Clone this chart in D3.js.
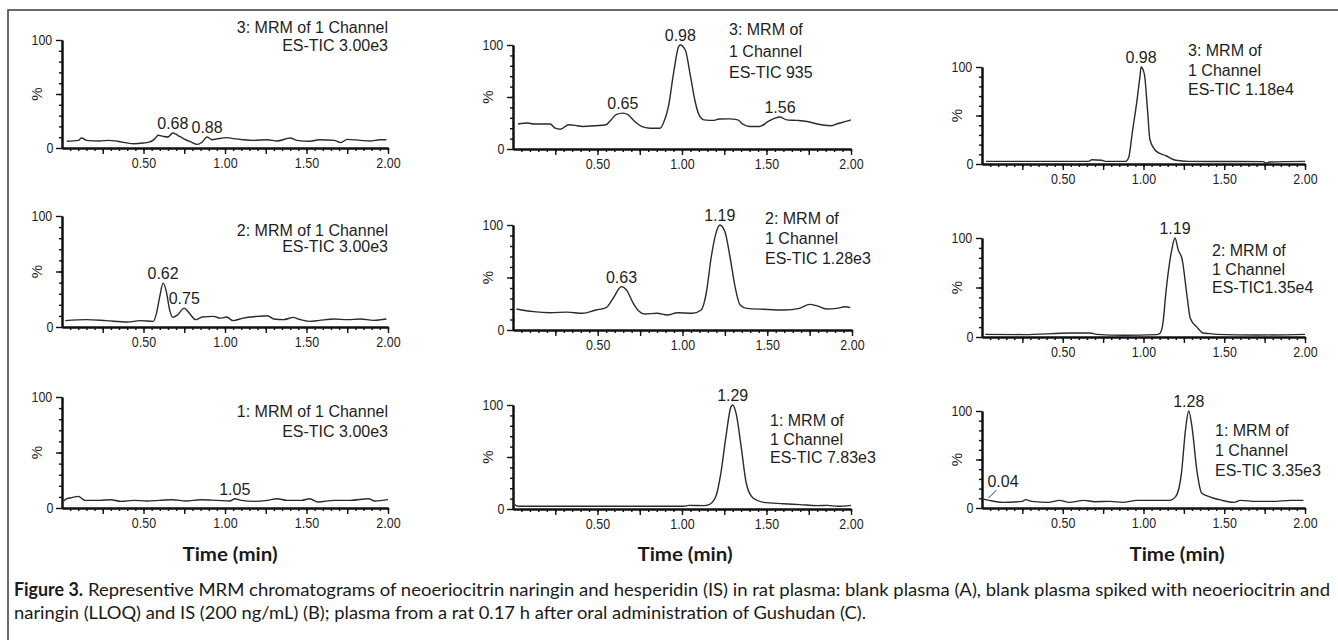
<!DOCTYPE html>
<html>
<head>
<meta charset="utf-8">
<script src="https://cdn.jsdelivr.net/npm/d3@7"></script>
<style>
  body { margin: 0; background: #fff; }
  svg { display: block; }
  .tick text {
    font-family: "Liberation Sans", Arial, sans-serif;
    font-size: 14.5px;
    transform-box: fill-box;
    transform-origin: center;
    transform: scaleX(0.86);
  }
</style>
</head>
<body>
<svg id="chart" width="1338" height="640"></svg>
<script>
// chromatogram traces: [retention time (min), relative abundance (%)]
// row 3 = channel 3 (hesperidin, IS), row 2 = channel 2, row 1 = channel 1
const traceA3 = [[0.03,6.2],[0.10,7.1],[0.12,9.3],[0.15,7.1],[0.23,6.5],[0.29,7.1],[0.34,6.2],[0.44,4.0],[0.50,4.6],[0.54,5.6],[0.57,8.7],[0.59,11.8],[0.62,10.8],[0.65,10.2],[0.68,13.9],[0.71,11.8],[0.745,8.7],[0.79,5.6],[0.83,3.4],[0.86,5.6],[0.89,10.2],[0.92,7.7],[0.95,8.4],[1.01,9.6],[1.05,8.7],[1.11,7.7],[1.175,7.1],[1.26,7.7],[1.32,6.5],[1.40,9.3],[1.44,7.1],[1.52,6.2],[1.58,7.7],[1.67,7.1],[1.71,5.0],[1.75,8.0],[1.83,7.1],[1.89,6.5],[1.95,7.7],[1.99,7.7]];
const traceB3 = [[0.03,24],[0.09,25],[0.12,24],[0.22,24],[0.25,20],[0.28,19],[0.33,23.3],[0.38,22.4],[0.41,21.7],[0.49,22.4],[0.55,23.3],[0.58,28],[0.61,33],[0.65,34.5],[0.68,33],[0.72,26.5],[0.76,21.7],[0.81,20],[0.87,20],[0.89,25],[0.92,41],[0.95,73],[0.98,98.4],[0.99,100],[1.02,95],[1.05,70],[1.08,44],[1.10,33],[1.13,28],[1.19,27.5],[1.22,28.8],[1.28,29],[1.33,28],[1.36,24],[1.40,21.7],[1.46,21.7],[1.51,26.5],[1.55,29.7],[1.58,30.7],[1.62,28],[1.68,27.5],[1.74,26.5],[1.80,24],[1.88,22.4],[1.92,24.3],[1.97,26.5],[2.00,28]];
const traceC3 = [[0.025,2.7],[0.66,2.7],[0.68,4.4],[0.74,3.8],[0.77,2.7],[0.89,2.7],[0.91,7.8],[0.93,31.7],[0.96,65.9],[0.98,93],[0.985,100],[1.005,93],[1.025,55.6],[1.04,25],[1.08,13],[1.14,8.5],[1.20,3.8],[1.28,2.7],[1.74,2.4],[1.76,1.0],[1.78,2],[2.00,2.7]];

const traceA2 = [[0.02,5.7],[0.15,6.6],[0.27,5.7],[0.40,4.5],[0.48,5.7],[0.56,5.1],[0.58,12.6],[0.60,27.5],[0.62,39.5],[0.64,32],[0.66,15.6],[0.68,8.7],[0.71,11],[0.75,17],[0.78,12.6],[0.82,6.6],[0.86,9],[0.93,9.6],[0.97,8],[1.01,9],[1.05,5.7],[1.11,8],[1.20,9.6],[1.26,10.2],[1.30,7.2],[1.36,6.6],[1.42,8.7],[1.45,7.2],[1.52,5.1],[1.58,6],[1.67,7.2],[1.75,6.6],[1.83,7.2],[1.91,6],[1.99,7.2]];
const traceB2 = [[0.02,20],[0.12,17.5],[0.22,16.5],[0.32,17],[0.41,15.9],[0.49,19],[0.55,21.3],[0.59,30],[0.64,41.3],[0.67,38],[0.71,25.4],[0.74,18.4],[0.78,15.2],[0.85,15.9],[0.91,14.3],[0.97,16.5],[1.06,15.9],[1.11,19],[1.14,35],[1.17,70],[1.20,93.7],[1.22,100],[1.25,93.7],[1.28,70],[1.31,41.3],[1.34,23.8],[1.38,20.6],[1.48,19.7],[1.60,19],[1.69,20.6],[1.75,24.4],[1.79,23.2],[1.85,20],[1.91,20.6],[1.96,22.2],[1.99,21.3]];
const traceC2 = [[0.02,2.7],[0.26,2.4],[0.55,4],[0.67,4],[0.71,2.7],[0.88,1.7],[1.08,2.4],[1.10,3.4],[1.12,13.6],[1.14,47],[1.175,88],[1.195,100],[1.215,88],[1.24,78],[1.27,40.7],[1.29,18.6],[1.33,10.2],[1.37,4],[1.41,3.4],[1.45,2.7],[1.70,2],[2.00,2.7]];

const traceA1 = [[0.01,6.3],[0.03,8.4],[0.06,9.3],[0.10,10.5],[0.14,6.9],[0.23,6.9],[0.30,7.5],[0.36,6],[0.44,6.9],[0.52,6.3],[0.60,6.9],[0.68,7.5],[0.76,6.3],[0.85,7.5],[0.95,6.9],[1.03,6.3],[1.06,8.4],[1.10,6.9],[1.18,6],[1.26,6.9],[1.32,8.4],[1.38,6.9],[1.47,6.9],[1.52,8.4],[1.57,5.4],[1.67,6.9],[1.77,6.9],[1.88,8.4],[1.92,6.3],[2.00,7.5]];
const traceB1 = [[0.01,4.2],[0.03,2.6],[0.61,2.6],[1.01,2.6],[1.04,3.5],[1.13,3.2],[1.16,4.2],[1.20,12],[1.23,34.5],[1.26,69.6],[1.29,98.4],[1.30,100],[1.32,92],[1.35,60],[1.38,25],[1.42,10.5],[1.48,6.4],[1.60,5.1],[1.70,4.2],[1.80,3.2],[1.86,3.5],[1.92,2.6],[2.00,3.5]];
const traceC1 = [[0.01,9.2],[0.045,7.9],[0.13,5.8],[0.25,6.8],[0.27,8.6],[0.31,6.8],[0.41,5.8],[0.48,7.9],[0.54,5.8],[0.63,7.9],[0.70,6.5],[0.79,6.8],[0.87,5.8],[0.96,7.9],[1.08,7.9],[1.16,7.9],[1.20,12],[1.235,36],[1.26,80.5],[1.28,100],[1.30,84],[1.33,39.4],[1.36,15.4],[1.39,12.7],[1.43,10.3],[1.47,8.6],[1.56,5.8],[1.60,7.9],[1.70,6.8],[1.80,6.8],[1.91,7.9],[1.99,7.9]];

// labelled retention times
const peaksA3 = ["0.68", "0.88"];
const peaksB3 = ["0.65", "0.98", "1.56"];
const peaksC3 = ["0.98"];
const peaksA2 = ["0.62", "0.75"];
const peaksB2 = ["0.63", "1.19"];
const peaksC2 = ["1.19"];
const peaksA1 = ["1.05"];
const peaksB1 = ["1.29"];
const peaksC1 = ["1.28", "0.04"];

// channel header text
const infoA3 = ["3: MRM of 1 Channel", "ES-TIC 3.00e3"];
const infoB3 = ["3: MRM of", "1 Channel", "ES-TIC 935"];
const infoC3 = ["3: MRM of", "1 Channel", "ES-TIC 1.18e4"];
const infoA2 = ["2: MRM of 1 Channel", "ES-TIC 3.00e3"];
const infoB2 = ["2: MRM of", "1 Channel", "ES-TIC 1.28e3"];
const infoC2 = ["2: MRM of", "1 Channel", "ES-TIC1.35e4"];
const infoA1 = ["1: MRM of 1 Channel", "ES-TIC 3.00e3"];
const infoB1 = ["1: MRM of", "1 Channel", "ES-TIC 7.83e3"];
const infoC1 = ["1: MRM of", "1 Channel", "ES-TIC 3.35e3"];

const majorX = [0.25, 0.5, 0.75, 1.0, 1.25, 1.5, 1.75, 2.0];
const labelX = [0.5, 1.0, 1.5, 2.0];
const majorY = [0, 50, 100];
const labelY = [0, 100];
const xTitle = "Time (min)";
const captionBold = "Figure 3.";
const captionLine1 = "Representive MRM chromatograms of neoeriocitrin naringin and hesperidin (IS) in rat plasma: blank plasma (A), blank plasma spiked with neoeriocitrin and";
const captionLine2 = "naringin (LLOQ) and IS (200 ng/mL) (B); plasma from a rat 0.17 h after oral administration of Gushudan (C).";

const panels = [
  { trace: traceA3, peaks: peaksA3, info: infoA3, left: 62,  right: 388,  top: 40,  bottom: 148, infoX: 388,  anchor: "end",   infoY: 33,  gap: 18 },
  { trace: traceB3, peaks: peaksB3, info: infoB3, left: 513, right: 851,  top: 45,  bottom: 149, infoX: 729,  anchor: "start", infoY: 35,  gap: 21.5 },
  { trace: traceC3, peaks: peaksC3, info: infoC3, left: 982, right: 1305, top: 67,  bottom: 164, infoX: 1188, anchor: "start", infoY: 56,  gap: 19.5 },
  { trace: traceA2, peaks: peaksA2, info: infoA2, left: 62,  right: 388,  top: 216, bottom: 327, infoX: 388,  anchor: "end",   infoY: 236, gap: 16 },
  { trace: traceB2, peaks: peaksB2, info: infoB2, left: 513, right: 852,  top: 225, bottom: 330, infoX: 765,  anchor: "start", infoY: 224, gap: 20 },
  { trace: traceC2, peaks: peaksC2, info: infoC2, left: 982, right: 1305, top: 238, bottom: 337, infoX: 1212, anchor: "start", infoY: 256, gap: 18.5 },
  { trace: traceA1, peaks: peaksA1, info: infoA1, left: 62,  right: 388,  top: 397, bottom: 508, infoX: 388,  anchor: "end",   infoY: 417, gap: 20 },
  { trace: traceB1, peaks: peaksB1, info: infoB1, left: 513, right: 851,  top: 405, bottom: 509, infoX: 770,  anchor: "start", infoY: 426, gap: 18.5 },
  { trace: traceC1, peaks: peaksC1, info: infoC1, left: 982, right: 1305, top: 411, bottom: 508, infoX: 1215, anchor: "start", infoY: 436, gap: 20 }
];

const font = '"Liberation Sans", Arial, sans-serif';
const svg = d3.select("#chart");

// outer frame (only top and left edges show)
svg.append("path")
  .attr("d", "M8,640V10H1338")
  .attr("fill", "none")
  .attr("stroke", "#3a3a3a")
  .attr("stroke-width", 1.5);

function styleAxis(sel) {
  sel.attr("font-family", null).attr("font-size", null);
  sel.select(".domain").attr("stroke", "#111").attr("stroke-width", 2);
  sel.selectAll(".tick line").attr("stroke", "#111").attr("stroke-width", 1.4);
  sel.selectAll(".tick text").attr("fill", "#1e1e1e");
}

panels.forEach(p => {
  const x = d3.scaleLinear().domain([0, 2]).range([p.left, p.right]);
  const y = d3.scaleLinear().domain([0, 100]).range([p.bottom, p.top]);
  const g = svg.append("g");

  // x axis: minor ticks every 0.05, major every 0.25
  g.append("g").attr("transform", `translate(0,${p.bottom})`)
    .call(d3.axisBottom(x).tickValues(d3.range(1, 41).map(i => i * 0.05)).tickSize(3).tickSizeOuter(0).tickFormat(""))
    .call(styleAxis);
  g.append("g").attr("transform", `translate(0,${p.bottom})`)
    .call(d3.axisBottom(x).tickValues(majorX).tickSize(6).tickPadding(4).tickSizeOuter(0)
      .tickFormat(d => labelX.includes(d) ? d.toFixed(2) : ""))
    .call(styleAxis);

  // y axis: minor every 10, major 0/50/100
  g.append("g").attr("transform", `translate(${p.left},0)`)
    .call(d3.axisLeft(y).tickValues(d3.range(10, 100, 10)).tickSize(3).tickSizeOuter(0).tickFormat(""))
    .call(styleAxis);
  g.append("g").attr("transform", `translate(${p.left},0)`)
    .call(d3.axisLeft(y).tickValues(majorY).tickSize(6).tickPadding(2).tickSizeOuter(0)
      .tickFormat(d => labelY.includes(d) ? d : ""))
    .call(styleAxis);

  g.append("text")
    .attr("transform", `translate(${p.left - 20},${y(50)}) rotate(-90)`)
    .attr("text-anchor", "middle")
    .attr("font-family", font)
    .attr("font-size", 15)
    .attr("fill", "#1e1e1e")
    .text("%");

  const line = d3.line()
    .x(d => x(d[0]))
    .y(d => y(d[1]))
    .curve(d3.curveMonotoneX);

  g.append("path")
    .datum(p.trace)
    .attr("fill", "none")
    .attr("stroke", "#2a2a2a")
    .attr("stroke-width", 1.4)
    .attr("d", line);

  // peak retention time labels, centred over the local maximum
  p.peaks.forEach(label => {
    const t = +label;
    const near = p.trace.filter(d => Math.abs(d[0] - t) <= 0.045);
    const apex = near.reduce((a, b) => b[1] > a[1] ? b : a);
    if (t < 0.1) {
      const px = x(t), py = y(apex[1]) - 1;
      g.append("line")
        .attr("x1", px).attr("y1", py)
        .attr("x2", px + 8).attr("y2", py - 8)
        .attr("stroke", "#333").attr("stroke-width", 1);
      g.append("text")
        .attr("x", px - 1).attr("y", py - 11)
        .attr("font-family", font).attr("font-size", 16).attr("fill", "#1e1e1e")
        .text(label);
    } else {
      g.append("text")
        .attr("x", x(apex[0]))
        .attr("y", y(apex[1]) - 4)
        .attr("text-anchor", "middle")
        .attr("font-family", font).attr("font-size", 16).attr("fill", "#1e1e1e")
        .text(label);
    }
  });

  g.selectAll(".info")
    .data(p.info)
    .enter().append("text")
    .attr("x", p.infoX)
    .attr("y", (d, i) => p.infoY + i * p.gap)
    .attr("text-anchor", p.anchor)
    .attr("font-family", font)
    .attr("font-size", 16)
    .attr("fill", "#1e1e1e")
    .text(d => d);
});

// column titles
[230, 685, 1177].forEach(cx => {
  svg.append("text")
    .attr("x", cx).attr("y", 561)
    .attr("text-anchor", "middle")
    .attr("font-family", "Lato, 'Open Sans', sans-serif")
    .attr("font-weight", "bold")
    .attr("font-size", 19)
    .attr("textLength", 95)
    .attr("lengthAdjust", "spacingAndGlyphs")
    .attr("fill", "#1a1a1a")
    .text(xTitle);
});

// caption
const capFont = "Lato, 'Open Sans', sans-serif";
svg.append("text")
  .attr("x", 14).attr("y", 596)
  .attr("font-family", capFont).attr("font-weight", "bold").attr("font-size", 18)
  .attr("textLength", 69).attr("lengthAdjust", "spacingAndGlyphs")
  .attr("fill", "#1a1a1a")
  .text(captionBold);
svg.append("text")
  .attr("x", 88).attr("y", 596)
  .attr("font-family", capFont).attr("font-size", 18)
  .attr("textLength", 1242).attr("lengthAdjust", "spacingAndGlyphs")
  .attr("fill", "#1a1a1a")
  .text(captionLine1);
svg.append("text")
  .attr("x", 14).attr("y", 619)
  .attr("font-family", capFont).attr("font-size", 18)
  .attr("textLength", 852).attr("lengthAdjust", "spacingAndGlyphs")
  .attr("fill", "#1a1a1a")
  .text(captionLine2);
</script>
</body>
</html>
